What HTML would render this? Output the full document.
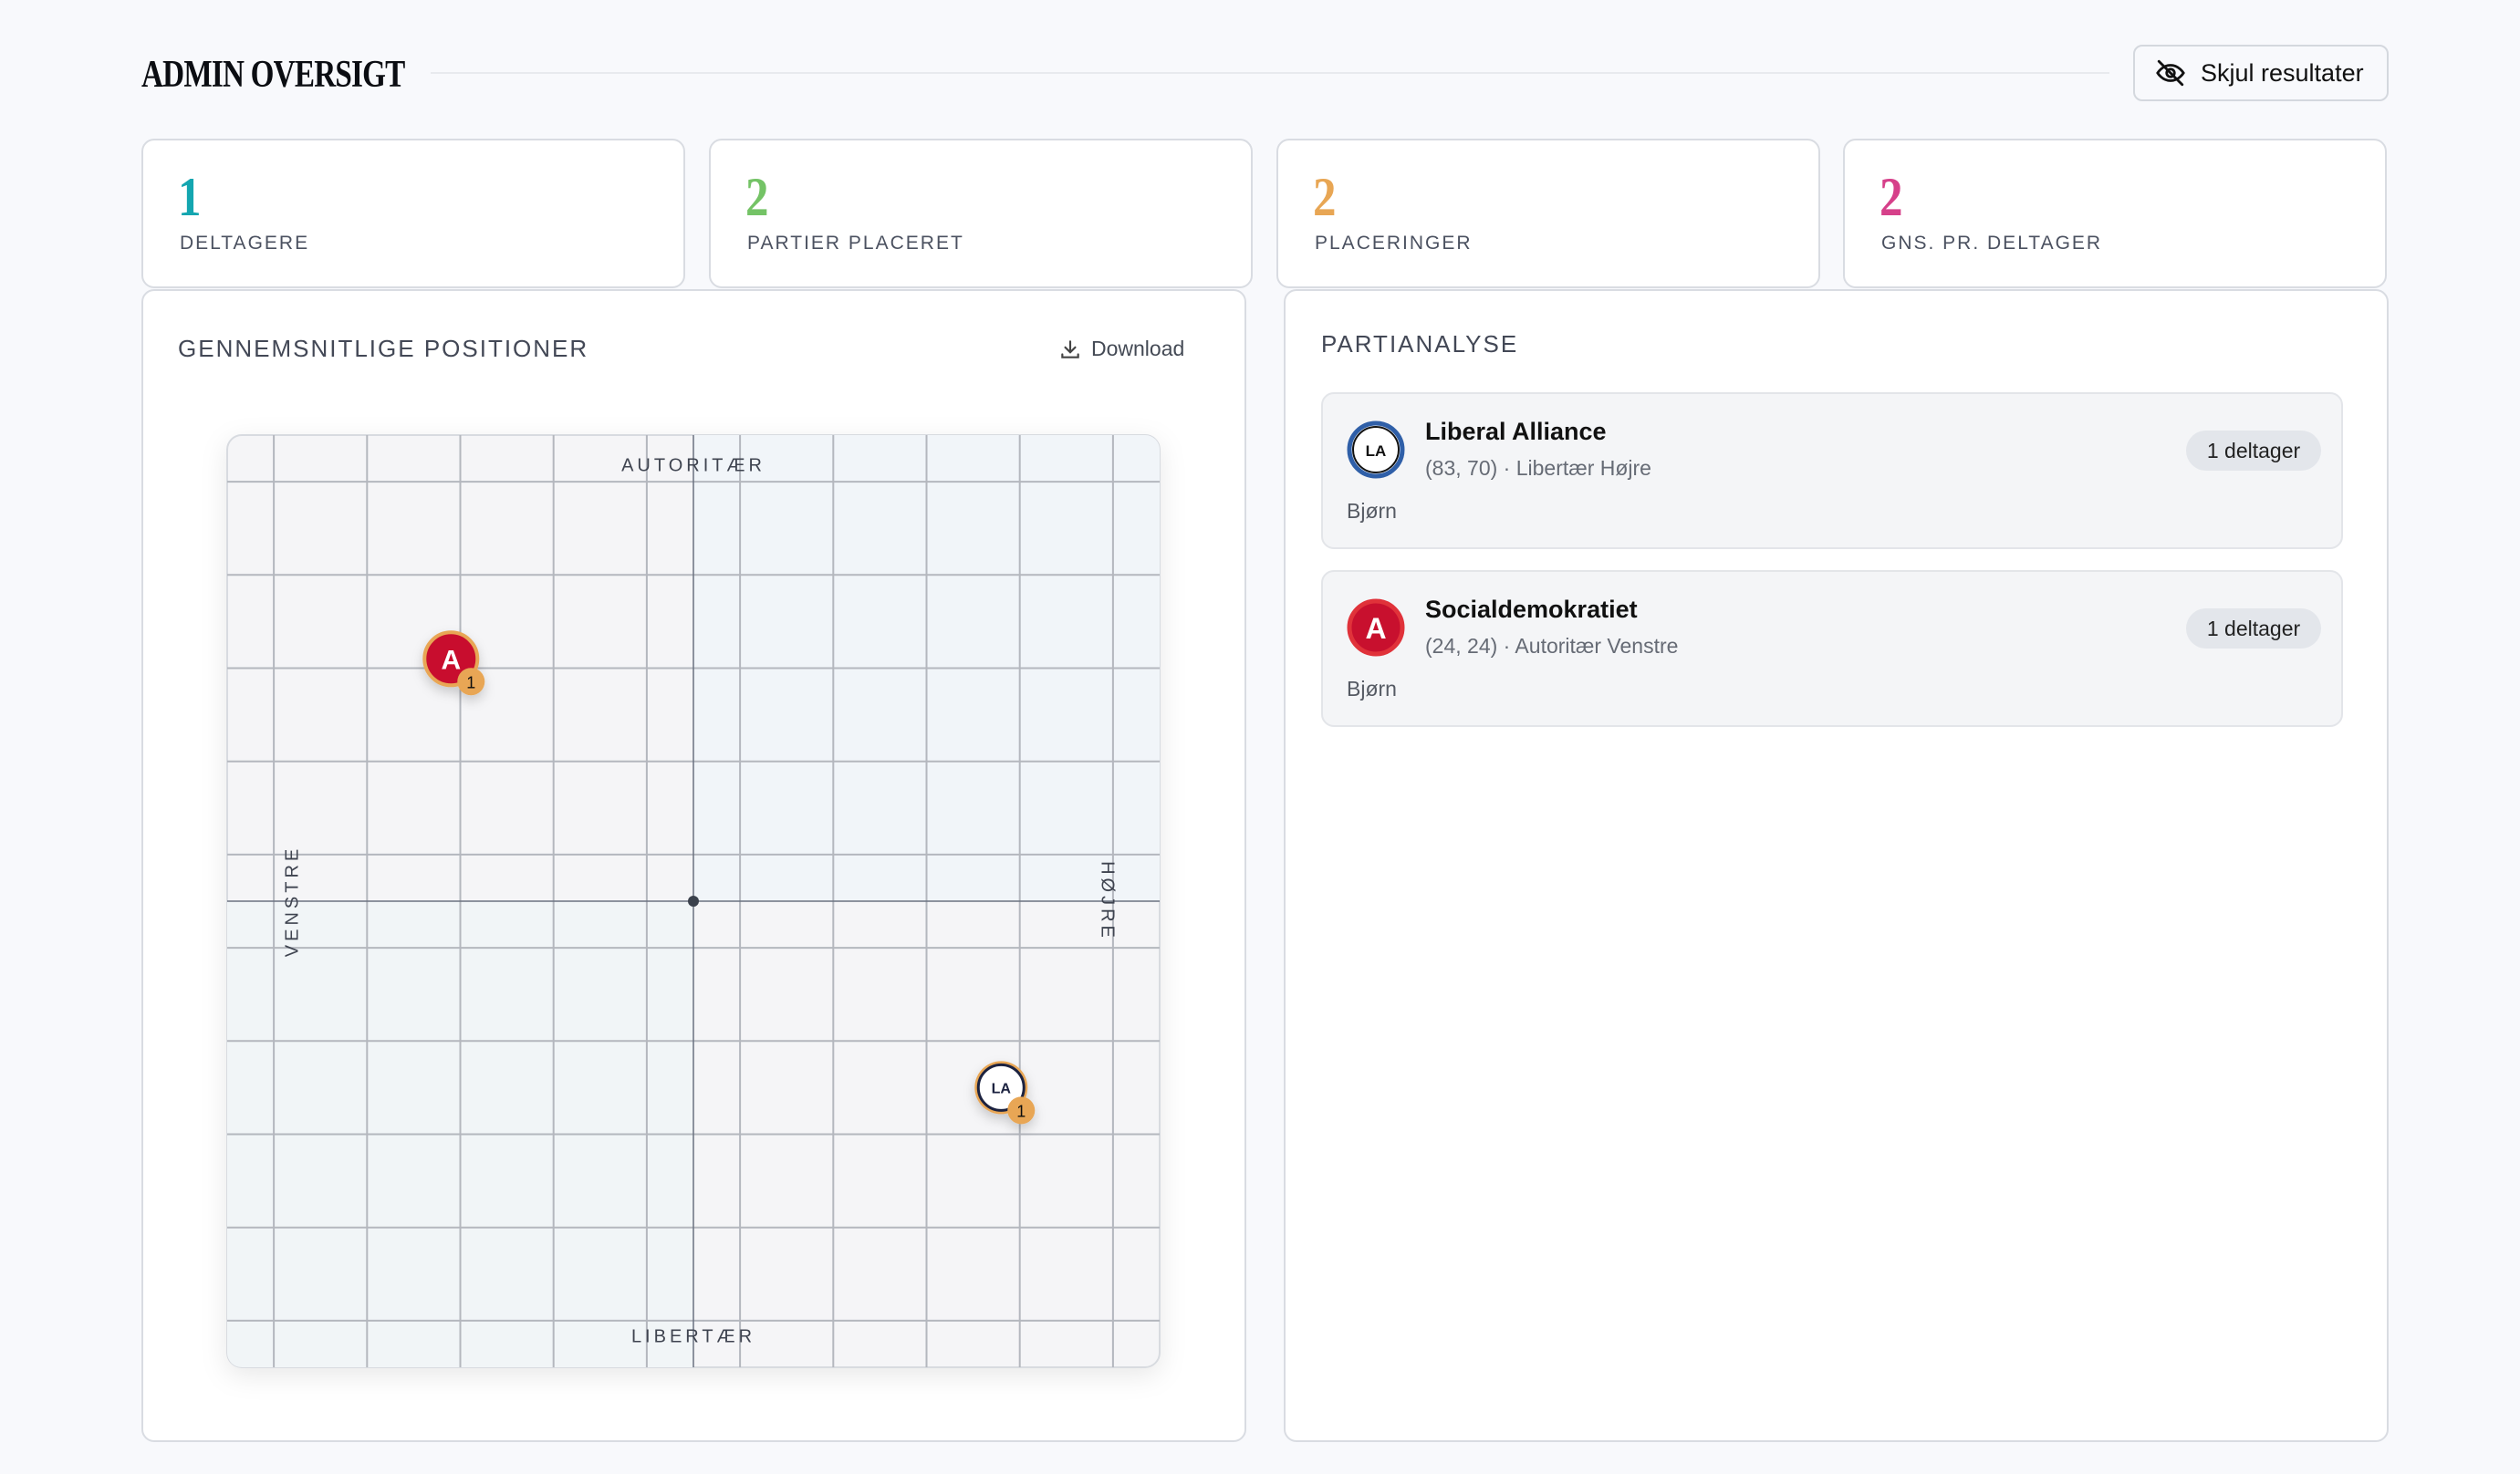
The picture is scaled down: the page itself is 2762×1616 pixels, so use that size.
<!DOCTYPE html>
<html><head><meta charset="utf-8">
<style>
*{box-sizing:border-box;margin:0;padding:0}
body{width:2762px;height:1616px;background:#f8f9fc;font-family:"Liberation Sans",sans-serif;position:relative;overflow:hidden;color:#111}
.abs{position:absolute}
.title{left:155px;top:58px;font-family:"Liberation Serif",serif;font-weight:bold;font-size:42px;transform:scaleX(0.79);transform-origin:left top;letter-spacing:-1px;color:#0b0d12;white-space:nowrap}
.hline{left:472px;top:79px;width:1840px;height:2px;background:#e8eaee}
.btn{left:2338px;top:49px;width:280px;height:62px;border:2px solid #d4d8de;border-radius:10px;background:#f8f9fc;font-size:27px;color:#111;display:flex;align-items:center;padding-left:22px;gap:16px}
.card{background:#fff;border:2px solid #d9dce2;border-radius:14px}
.stat{top:152px;width:596px;height:164px}
.num{position:absolute;left:38px;top:28px;font-family:"Liberation Serif",serif;font-weight:bold;font-size:60px;transform:scaleX(0.85);transform-origin:left top}
.lab{position:absolute;left:40px;top:101px;font-size:21px;letter-spacing:2px;color:#4b5160}
.h2{font-size:26px;letter-spacing:2px;color:#434856}
.pc{left:1448px;width:1120px;height:172px;background:#f4f5f7;border:2px solid #e3e5e9;border-radius:14px}
.pname{position:absolute;left:112px;top:26px;font-size:27px;font-weight:bold;color:#111}
.psub{position:absolute;left:112px;top:68px;font-size:23px;color:#666b75}
.pwho{position:absolute;left:26px;top:115px;font-size:23px;color:#555a63}
.pill{position:absolute;left:946px;top:40px;width:148px;height:44px;border-radius:22px;background:#e3e6eb;font-size:23px;color:#222;display:flex;align-items:center;justify-content:center}
</style></head><body>
<div class="abs title">ADMIN OVERSIGT</div>
<div class="abs hline"></div>
<div class="abs btn">
<svg width="34" height="34" viewBox="0 0 24 24" fill="none" stroke="#111" stroke-width="2" stroke-linecap="round"><path d="M2 12s3.5-6 10-6 10 6 10 6-3.5 6-10 6S2 12 2 12z"/><circle cx="12" cy="12" r="3"/><line x1="3" y1="3" x2="21" y2="21"/></svg>
<span>Skjul resultater</span></div>

<div class="abs card stat" style="left:155px"><div class="num" style="color:#14a6b0">1</div><div class="lab">DELTAGERE</div></div>
<div class="abs card stat" style="left:777px"><div class="num" style="color:#74c366">2</div><div class="lab">PARTIER PLACERET</div></div>
<div class="abs card stat" style="left:1399px"><div class="num" style="color:#e8a654">2</div><div class="lab">PLACERINGER</div></div>
<div class="abs card stat" style="left:2020px"><div class="num" style="color:#d6408a">2</div><div class="lab">GNS. PR. DELTAGER</div></div>

<div class="abs card" style="left:155px;top:317px;width:1211px;height:1264px">
<div class="abs h2" style="left:38px;top:48px">GENNEMSNITLIGE POSITIONER</div>
<div class="abs" style="left:1003px;top:50px;font-size:23px;color:#444a55;display:flex;align-items:center;gap:10px">
<svg width="26" height="26" viewBox="0 0 24 24" fill="none" stroke="#444" stroke-width="2" stroke-linecap="round"><path d="M12 4v11M7 10l5 5 5-5M4 17v3h16v-3"/></svg>Download</div>
</div>

<div class="abs card" style="left:1407px;top:317px;width:1211px;height:1264px">
<div class="abs h2" style="left:39px;top:43px">PARTIANALYSE</div>
</div>

<div class="abs pc" style="top:430px">
<svg class="abs" style="left:26px;top:29px" width="64" height="64"><circle cx="32" cy="32" r="29" fill="#fff" stroke="#2f5fa8" stroke-width="5"/><circle cx="32" cy="32" r="25" fill="none" stroke="#111" stroke-width="2"/><text x="32" y="39" text-anchor="middle" font-size="17" font-weight="bold" fill="#111" font-family="Liberation Sans">LA</text></svg>
<div class="pname">Liberal Alliance</div><div class="psub">(83, 70) · Libertær Højre</div><div class="pwho">Bjørn</div><div class="pill">1 deltager</div></div>
<div class="abs pc" style="top:625px">
<svg class="abs" style="left:26px;top:29px" width="64" height="64"><circle cx="32" cy="32" r="29" fill="#c8102e" stroke="#e0323a" stroke-width="5"/><text x="32" y="44" text-anchor="middle" font-size="32" font-weight="bold" fill="#fff" font-family="Liberation Sans">A</text></svg>
<div class="pname">Socialdemokratiet</div><div class="psub">(24, 24) · Autoritær Venstre</div><div class="pwho">Bjørn</div><div class="pill">1 deltager</div></div>

<svg class="abs" style="left:0;top:0;overflow:visible" width="2762" height="1616" id="chart">
<defs>
<filter id="sh" x="-20%" y="-20%" width="140%" height="140%"><feDropShadow dx="0" dy="8" stdDeviation="14" flood-color="#000" flood-opacity="0.09"/></filter>
<filter id="msh" x="-50%" y="-50%" width="200%" height="200%"><feDropShadow dx="0" dy="6" stdDeviation="6" flood-color="#000" flood-opacity="0.18"/></filter>
<clipPath id="cp"><rect x="249" y="477" width="1022" height="1022" rx="16"/></clipPath>
</defs>
<g id="plot"></g>
</svg>

<script>
const partyNames = ["Socialdemokratiet", "Liberal Alliance"];
const partyCodes = ["A", "LA"];
const xValues = [24, 83];
const yValues = [24, 70];
const counts = [1, 1];
const gridTicks = [5, 15, 25, 35, 45, 55, 65, 75, 85, 95];

const NS = "http://www.w3.org/2000/svg";
const L = 249, T = 477, S = 1022;
function sx(v){ return L + v / 100 * S; }
function sy(v){ return T + v / 100 * S; }
function mk(tag, attrs, parent){ const e = document.createElementNS(NS, tag); for (const k in attrs) e.setAttribute(k, attrs[k]); parent.appendChild(e); return e; }
const g = document.getElementById('plot');

const bg = mk('rect', {x:L, y:T, width:S, height:S, rx:16, fill:'#f5f5f7', stroke:'#d8dbe0', 'stroke-width':2, filter:'url(#sh)'}, g);


const cg = mk('g', {'clip-path':'url(#cp)'}, g);
const q1 = mk('rect', {x:sx(50), y:T, width:S/2, height:S/2, fill:'#f1f5f9'}, cg);


const q2 = mk('rect', {x:L, y:sy(50), width:S/2, height:S/2, fill:'#f1f5f7'}, cg);



gridTicks.forEach(t => {
  const v = mk('line', {x1:sx(t), x2:sx(t), y1:T, y2:T+S, stroke:'#b4b7be', 'stroke-width':2}, cg);
  
  
  const h = mk('line', {y1:sy(t), y2:sy(t), x1:L, x2:L+S, stroke:'#b4b7be', 'stroke-width':2}, cg);
  
  
});
const ax1 = mk('line', {x1:sx(50), x2:sx(50), y1:T, y2:T+S, stroke:'#6b7280', 'stroke-width':1.5}, cg);


const ax2 = mk('line', {x1:L, x2:L+S, y1:sy(50), y2:sy(50), stroke:'#6b7280', 'stroke-width':1.5}, cg);


const cd = mk('circle', {cx:sx(50), cy:sy(50), r:6, fill:'#3b414c'}, g);



function label(txt, x, y, rot, name){
  const t = mk('text', {x:x, y:y, 'text-anchor':'middle', 'dominant-baseline':'middle', 'font-size':20, 'letter-spacing':4, fill:'#3f4450', 'font-family':'Liberation Sans', transform: rot ? `rotate(${rot} ${x} ${y})` : ''}, g);
  t.textContent = txt;
  
  
}
label('AUTORITÆR', sx(50), T+34, 0, 'axis-label-top');
label('LIBERTÆR', sx(50), T+S-33, 0, 'axis-label-bottom');
label('VENSTRE', L+72, sy(50), -90, 'axis-label-left');
label('HØJRE', L+S-58, sy(50), 90, 'axis-label-right');

partyCodes.forEach((c, i) => {
  const x = sx(xValues[i]), y = sy(yValues[i]);
  const m = mk('g', {filter:'url(#msh)'}, g);
  
  
  if (c === 'A') {
    mk('circle', {cx:x, cy:y, r:29, fill:'#c8102e', stroke:'#e8a654', 'stroke-width':4}, m);
    const t = mk('text', {x:x, y:y+11, 'text-anchor':'middle', 'font-size':30, 'font-weight':'bold', fill:'#fff', 'font-family':'Liberation Sans'}, m);
    t.textContent = c;
  } else {
    mk('circle', {cx:x, cy:y, r:29, fill:'#e8a654'}, m);
    mk('circle', {cx:x, cy:y, r:25, fill:'#fff', stroke:'#1c2440', 'stroke-width':3}, m);
    const t = mk('text', {x:x, y:y+6, 'text-anchor':'middle', 'font-size':16, 'font-weight':'bold', fill:'#1c2440', 'font-family':'Liberation Sans'}, m);
    t.textContent = c;
  }
  mk('circle', {cx:x+22, cy:y+25, r:15, fill:'#e8a654'}, m);
  const b = mk('text', {x:x+22, y:y+32, 'text-anchor':'middle', 'font-size':18, fill:'#111', 'font-family':'Liberation Sans'}, m);
  b.textContent = counts[i];
});
</script>
</body></html>
